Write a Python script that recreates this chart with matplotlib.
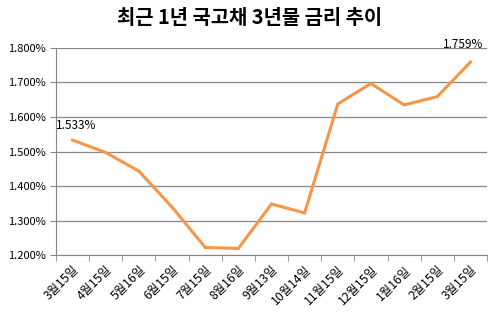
import matplotlib
matplotlib.use("Agg")
import matplotlib.pyplot as plt
import numpy as np
from matplotlib.ticker import FixedLocator

plt.rcParams['font.family'] = ['Noto Sans CJK KR', 'DejaVu Sans']

categories = ["3월15일", "4월15일", "5월16일", "6월15일", "7월15일", "8월16일", "9월13일",
              "10월14일", "11월15일", "12월15일", "1월16일", "2월15일", "3월15일"]
values = [1.533, 1.497, 1.443, 1.339, 1.222, 1.219, 1.348, 1.322, 1.638, 1.697, 1.635, 1.659, 1.759]
yticks = [1.2, 1.3, 1.4, 1.5, 1.6, 1.7, 1.8]

fig = plt.figure(figsize=(5.0, 3.22), dpi=100)
ax = fig.add_axes([0.112, 0.208, 0.862, 0.643])
x = np.arange(len(categories))
ax.plot(x, values, color='#F79646', lw=2.2, solid_joinstyle='miter')
ax.set_xlim(-0.5, len(categories) - 0.5)
ax.set_ylim(1.2, 1.8)
ax.set_yticks(yticks)
ax.set_yticklabels([f"{v:.3f}%" for v in yticks], fontsize=8)
ax.yaxis.grid(True, color='#878787', lw=0.9)
ax.set_axisbelow(True)
ax.set_xticks(x)
ax.set_xticklabels(categories, rotation=45, ha='right', rotation_mode='anchor', fontsize=8.8)
ax.tick_params(axis='x', length=0, pad=6)
ax.xaxis.set_minor_locator(FixedLocator(np.arange(-0.5, len(categories), 1.0)))
ax.tick_params(axis='x', which='minor', length=4, color='#878787', direction='out')
ax.tick_params(axis='y', length=4, color='#878787')
for s in ['top', 'right']:
    ax.spines[s].set_visible(False)
for s in ['left', 'bottom']:
    ax.spines[s].set_color('#878787')

ax.annotate(f"{values[0]:.3f}%", (x[0], values[0]), xytext=(-12, 8), textcoords='offset points', fontsize=8.5)
ax.annotate(f"{values[-1]:.3f}%", (x[-1], values[-1]), xytext=(-20, 10), textcoords='offset points', fontsize=8.5)

fig.text(0.5, 0.945, "최근 1년 국고채 3년물 금리 추이", ha='center', va='center', fontsize=14.3, fontweight='bold')
fig.savefig("out.png", dpi=100)
